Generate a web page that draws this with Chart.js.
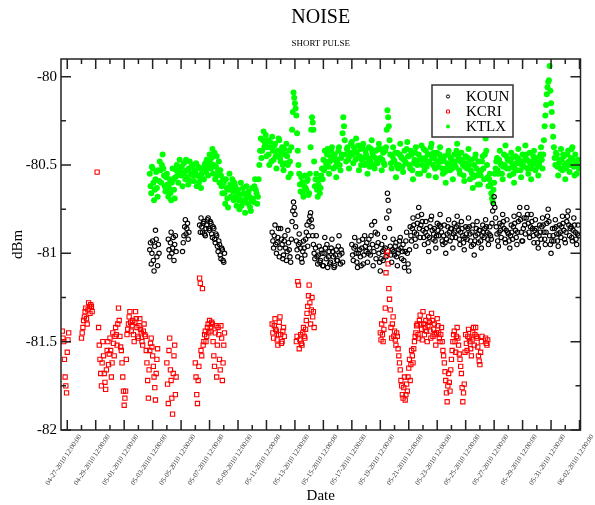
<!DOCTYPE html>
<html>
<head>
<meta charset="utf-8">
<title>NOISE</title>
<script src="https://cdn.jsdelivr.net/npm/chart.js@4.4.1/dist/chart.umd.min.js"></script>
<style>
  html, body { margin: 0; padding: 0; background: #fff; }
  #wrap { width: 595px; height: 505px; }
</style>
</head>
<body>
<div id="wrap"><canvas id="noiseChart"></canvas></div>
<script>
// day 0 = 04-27-2010 12:00:00, samples every STEP days
const STEP = 0.05;

const dateLabels = [
  '04-27-2010 12:00:00', '04-29-2010 12:00:00', '05-01-2010 12:00:00', '05-03-2010 12:00:00',
  '05-05-2010 12:00:00', '05-07-2010 12:00:00', '05-09-2010 12:00:00', '05-11-2010 12:00:00',
  '05-13-2010 12:00:00', '05-15-2010 12:00:00', '05-17-2010 12:00:00', '05-19-2010 12:00:00',
  '05-21-2010 12:00:00', '05-23-2010 12:00:00', '05-25-2010 12:00:00', '05-27-2010 12:00:00',
  '05-29-2010 12:00:00', '05-31-2010 12:00:00', '06-02-2010 12:00:00'
];

const seriesNames = ['KOUN', 'KCRI', 'KTLX'];

// each run: [first day, values in dBm]
const kounRuns = [
  [5.8, [-80.98, -80.94, -81.06, -81.00, -80.93, -81.04, -81.10, -80.96, -80.87, -80.92, -81.02, -81.07, -80.95, -81.00]],
  [7.1, [-80.92, -80.98, -81.02, -80.94, -80.88, -81.00, -80.97, -80.91, -81.04, -80.95, -80.90, -80.99]],
  [8.1, [-80.99, -80.94, -80.90, -80.85, -80.81, -80.89, -80.86, -80.83, -80.92, -80.88]],
  [9.3, [-80.84, -80.88, -80.80, -80.85, -80.88, -80.83, -80.82, -80.89, -80.90, -80.86, -80.84, -80.81, -80.80, -80.86,
         -80.87, -80.82, -80.83, -80.89, -80.91, -80.85, -80.86, -80.92, -80.94, -80.89, -80.90, -80.96, -80.99, -80.93, -80.95, -81.01, -81.03, -80.97, -80.98, -81.04,
         -81.05, -81.00]],
  [14.4, [-80.88, -80.93, -80.97, -80.90, -80.84, -80.95, -81.00, -80.94, -80.91, -80.86, -81.02, -80.97,
          -80.86, -80.92, -80.95, -81.03, -81.01, -80.93, -80.90, -80.97, -81.04, -80.99, -80.87, -80.94, -80.98, -81.02, -81.05, -80.92, -80.82, -80.76, -80.71, -80.74,
          -80.78, -80.85, -80.93, -80.98, -81.02, -80.95, -80.89, -80.94, -80.97, -81.03, -81.05, -80.99, -80.93, -80.97, -81.01, -80.92, -80.88, -80.84, -80.96, -80.90,
          -80.82, -80.79, -80.77, -80.81, -80.85, -80.90, -80.95, -81.00, -81.03, -80.97, -80.90, -81.02, -81.06, -81.01, -80.96, -81.05, -81.04, -80.98, -81.00, -81.07,
          -81.07, -81.00, -80.91, -80.97, -81.03, -80.95, -81.08, -81.02, -80.99, -81.06, -81.05, -80.97, -80.92, -80.99, -81.02, -81.08, -81.07, -81.01, -80.98, -81.04,
          -81.04, -80.96, -80.90, -81.01, -81.06, -80.98, -81.00, -81.05]],
  [20.0, [-80.95, -81.01, -81.04, -80.97, -80.91, -80.96, -81.00, -81.05, -81.08, -81.00, -80.93, -80.98, -81.02, -81.07, -80.97, -80.92, -81.06, -81.01, -80.90, -80.96,
          -80.99, -80.94, -81.05, -81.00, -80.92, -80.97, -81.01, -80.90, -80.84, -80.95, -81.07, -80.99, -80.82, -80.88, -81.03, -80.96, -80.89, -80.94, -81.00, -81.05,
          -81.10, -81.03, -80.95, -80.99, -81.04, -80.98, -80.91, -80.97, -81.02, -80.80, -80.66, -80.70, -80.76, -80.86, -80.96, -81.01, -81.05, -80.98, -80.92, -80.99,
          -81.01, -80.96, -80.94, -81.02, -81.07, -81.00, -80.98, -80.93, -80.91, -80.97, -81.03, -80.99, -80.95, -81.04, -81.08, -80.99, -80.93, -80.88, -81.00, -81.06,
          -81.10, -80.98, -80.85, -80.90, -80.93, -80.86, -80.80, -80.84, -80.88, -80.92, -80.96, -80.89, -80.83, -80.79, -80.74, -80.86, -80.91, -80.84, -80.78, -80.82,
          -80.87, -80.91, -80.95, -80.88, -80.82, -80.86, -80.90, -80.94, -80.99, -80.91, -80.85, -80.81, -80.79, -80.87, -80.92, -80.89, -80.86, -80.93, -80.97, -80.90,
          -80.83, -80.87, -80.90, -80.84, -80.78, -80.85, -80.88, -80.93, -80.95, -80.90, -80.84, -80.94, -81.00, -80.92, -80.89, -80.85, -80.81, -80.88, -80.93, -80.86,
          -80.86, -80.91, -80.97, -80.89, -80.83, -80.88, -80.91, -80.85, -80.79, -80.84, -80.87, -80.92, -80.95, -80.88, -80.82, -80.86, -80.90, -80.94, -80.98, -80.91,
          -80.85, -80.89, -80.92, -80.86, -80.80, -80.85, -80.89, -80.93, -80.96, -80.88, -80.84, -80.95, -81.01, -80.93, -80.90, -80.86, -80.82, -80.89, -80.94, -80.87,
          -80.87, -80.93, -80.97, -80.90, -80.84, -80.88, -80.91, -80.86, -80.81, -80.85, -80.88, -80.92, -80.95, -80.89, -80.85, -80.90, -80.92, -80.83, -80.76, -80.72,
          -80.68, -80.74, -80.80, -80.85, -80.89, -80.93, -80.96, -80.88, -80.83, -80.87, -80.91, -80.84, -80.78, -80.82, -80.86, -80.92, -80.94, -80.87, -80.81, -80.88,
          -80.89, -80.93, -80.97, -80.90, -80.84, -80.88, -80.92, -80.85, -80.79, -80.83, -80.87, -80.91, -80.95, -80.88, -80.82, -80.78, -80.74, -80.81, -80.88, -80.93,
          -80.93, -80.86, -80.80, -80.84, -80.89, -80.80, -80.74, -80.78, -80.83, -80.88, -80.91, -80.85, -80.78, -80.82, -80.86, -80.90, -80.94, -80.87, -80.81, -80.86,
          -80.89, -80.94, -80.97, -80.90, -80.84, -80.88, -80.92, -80.85, -80.80, -80.84, -80.88, -80.92, -80.95, -80.88, -80.83, -80.79, -80.75, -80.82, -80.90, -80.95,
          -81.00, -80.93, -80.86, -80.90, -80.93, -80.86, -80.81, -80.85, -80.89, -80.93, -80.96, -80.89, -80.84, -80.88, -80.91, -80.85, -80.79, -80.83, -80.87, -80.92,
          -80.94, -80.88, -80.82, -80.79, -80.76, -80.84, -80.90, -80.86, -80.85, -80.91, -80.93, -80.87, -80.80, -80.84, -80.88, -80.92, -80.95, -80.89, -80.84, -80.90]]
];

const kcriRuns = [
  [-0.35, [-81.44, -81.48, -81.50, -81.60, -81.70, -81.75, -81.79, -81.56, -81.49, -81.45]],
  [1.0, [-81.48, -81.45, -81.42, -81.38, -81.36, -81.33, -81.31, -81.37, -81.40, -81.32, -81.28, -81.30, -81.34, -81.29, -81.30, -81.33]],
  [2.1, [-80.54]],
  [2.2, [-81.42, -81.52, -81.60, -81.68, -81.75, -81.62, -81.50, -81.58, -81.68, -81.73, -81.77, -81.66, -81.55, -81.50, -81.63, -81.57,
         -81.48, -81.55, -81.70, -81.62, -81.45, -81.51, -81.58, -81.47, -81.42, -81.46, -81.52, -81.40, -81.31, -81.38, -81.47, -81.53, -81.55, -81.62, -81.70, -81.78,
         -81.86, -81.82, -81.78, -81.60, -81.46, -81.43, -81.40, -81.36, -81.33, -81.39, -81.44, -81.41, -81.38, -81.46, -81.50, -81.39, -81.33, -81.37, -81.42, -81.47,
         -81.48, -81.41, -81.37, -81.43, -81.45, -81.50, -81.52, -81.44, -81.40, -81.46, -81.47, -81.55, -81.62, -81.72, -81.82, -81.66, -81.55, -81.51, -81.48, -81.53,
         -81.58, -81.64, -81.70, -81.76, -81.83, -81.68, -81.60, -81.54]],
  [7.0, [-81.62, -81.74, -81.85, -81.55, -81.48, -81.66, -81.72, -81.82, -81.91, -81.68, -81.58, -81.52, -81.80, -81.70]],
  [9.0, [-81.62, -81.70, -81.80, -81.85, -81.72, -81.64, -81.14, -81.17, -81.55, -81.58, -81.20, -81.52, -81.50, -81.46, -81.44, -81.50, -81.47, -81.42, -81.40, -81.45,
         -81.38, -81.42, -81.44, -81.39, -81.40, -81.50, -81.58, -81.64, -81.45, -81.41, -81.70, -81.52, -81.42, -81.46, -81.60, -81.66, -81.41, -81.48, -81.72, -81.62,
         -81.52, -81.45]],
  [14.4, [-81.40, -81.45, -81.48, -81.41, -81.37, -81.43, -81.44, -81.49, -81.52, -81.46, -81.39, -81.36, -81.46, -81.51, -81.50, -81.44, -81.42, -81.47]],
  [16.1, [-81.50, -81.47, -81.16, -81.18, -81.54, -81.49, -81.46, -81.51, -81.52, -81.45, -81.42, -81.47, -81.48, -81.43, -81.38, -81.34,
          -81.30, -81.24, -81.18, -81.28, -81.40, -81.32, -81.25, -81.36, -81.33, -81.42]],
  [22.0, [-81.45, -81.49, -81.40, -81.46, -81.50, -81.43, -81.38, -81.31, -81.11, -81.01, -80.99, -81.06, -81.20, -81.26, -81.32, -81.42, -81.48, -81.40, -81.36, -81.47,
          -81.44, -81.49, -81.52, -81.45, -81.47, -81.54, -81.58, -81.62, -81.66, -81.72, -81.75, -81.80, -81.82, -81.76, -81.70, -81.83, -81.80, -81.74, -81.78, -81.70,
          -81.65, -81.60, -81.72, -81.63, -81.55, -81.58, -81.62, -81.54, -81.50, -81.47, -81.45, -81.41, -81.40, -81.46, -81.48, -81.38, -81.35, -81.40, -81.43, -81.49,
          -81.33, -81.40, -81.46, -81.42, -81.38, -81.44, -81.50, -81.41, -81.36, -81.39, -81.44, -81.48, -81.34, -81.38, -81.47, -81.43, -81.40, -81.46, -81.52, -81.45,
          -81.37, -81.41, -81.45, -81.48, -81.50, -81.46, -81.42, -81.50, -81.55, -81.58, -81.62, -81.67, -81.72, -81.79, -81.84, -81.75, -81.68, -81.73, -81.78, -81.66,
          -81.60, -81.55, -81.50, -81.46, -81.44, -81.50, -81.56, -81.47, -81.42, -81.48, -81.52, -81.57, -81.60, -81.64, -81.68, -81.76, -81.84, -81.79, -81.74, -81.56,
          -81.46, -81.51, -81.55, -81.47, -81.43, -81.48, -81.50, -81.54, -81.58, -81.49, -81.45, -81.42, -81.52, -81.46, -81.42, -81.47, -81.48, -81.53, -81.58, -81.61,
          -81.63, -81.56, -81.50, -81.47]],
  [29.4, [-81.48, -81.51, -81.52, -81.49]]
];

const ktlxRuns = [
  [5.8, [-80.55, -80.62, -80.66, -80.51,
         -80.52, -80.60, -80.70, -80.64, -80.58, -80.54, -80.63, -80.68, -80.53, -80.59, -80.48, -80.53, -80.60, -80.50, -80.44, -80.52, -80.56, -80.62, -80.65, -80.57,
         -80.55, -80.61, -80.68, -80.63, -80.58, -80.66, -80.70, -80.60, -80.52, -80.58, -80.64, -80.69, -80.57, -80.53, -80.50, -80.56, -80.60, -80.53, -80.47, -80.54,
         -80.56, -80.51, -80.62, -80.55, -80.49, -80.54, -80.58, -80.47, -80.53, -80.57, -80.61, -80.52, -80.48, -80.59, -80.55, -80.51, -80.50, -80.56, -80.59, -80.53,
         -80.54, -80.49, -80.62, -80.56, -80.51, -80.60, -80.57, -80.52, -80.63, -80.55, -80.52, -80.58, -80.58, -80.50, -80.49, -80.54, -80.47, -80.52, -80.56, -80.49,
         -80.44, -80.49, -80.52, -80.46, -80.41, -80.55, -80.50, -80.43, -80.58, -80.51, -80.45, -80.56, -80.53, -80.48, -80.60, -80.53, -80.56, -80.62, -80.66, -80.58,
         -80.60, -80.66, -80.72, -80.58, -80.63, -80.69, -80.74, -80.64, -80.55, -80.61, -80.68, -80.62, -80.58, -80.65, -80.70, -80.60, -80.62, -80.68, -80.73, -80.65,
         -80.64, -80.70, -80.75, -80.67, -80.60, -80.73, -80.70, -80.63, -80.66, -80.71, -80.77, -80.69, -80.62, -80.67, -80.72, -80.65, -80.68, -80.74, -80.76, -80.70,
         -80.63, -80.69, -80.71, -80.62, -80.58, -80.64, -80.66, -80.72, -80.68, -80.58, -80.50, -80.42, -80.35, -80.46, -80.42, -80.36, -80.31, -80.40, -80.38, -80.33,
         -80.45, -80.40, -80.36, -80.44, -80.50, -80.37, -80.40, -80.48, -80.34, -80.42, -80.47, -80.39, -80.38, -80.45, -80.52, -80.44, -80.42, -80.35, -80.36, -80.46,
         -80.48, -80.43, -80.40, -80.50, -80.53, -80.41, -80.44, -80.49, -80.38, -80.45, -80.50, -80.57, -80.42, -80.48, -80.55, -80.40, -80.30, -80.20, -80.09, -80.12,
         -80.15, -80.18, -80.22, -80.32, -80.42, -80.50, -80.55, -80.61, -80.65, -80.57, -80.60, -80.66, -80.68, -80.62, -80.56, -80.63, -80.64, -80.59, -80.58, -80.67,
         -80.66, -80.55, -80.40, -80.30, -80.23, -80.26, -80.30, -80.48, -80.62, -80.58, -80.55, -80.64, -80.68, -80.61, -80.58, -80.66, -80.63, -80.56, -80.52, -80.58,
         -80.47, -80.53, -80.42, -80.48, -80.50, -80.44, -80.41, -80.51, -80.55, -80.48, -80.45, -80.42, -80.40, -80.47, -80.52, -80.46, -80.44, -80.51, -80.57, -80.49,
         -80.47, -80.42, -80.40, -80.50, -80.53, -80.46, -80.44, -80.32, -80.23, -80.28, -80.36, -80.44, -80.48, -80.41, -80.40, -80.47, -80.52, -80.45, -80.43, -80.38,
         -80.37, -80.44, -80.49, -80.40, -80.42, -80.47, -80.35, -80.43, -80.46, -80.39, -80.53, -80.45, -80.41, -80.50, -80.47, -80.40, -80.38, -80.46, -80.50, -80.42,
         -80.44, -80.49, -80.55, -80.46, -80.40, -80.51, -80.48, -80.41, -80.36, -80.43, -80.45, -80.50, -80.52, -80.46, -80.42, -80.48, -80.49, -80.41, -80.38, -80.47,
         -80.46, -80.41, -80.53, -80.47, -80.43, -80.49, -80.50, -80.42, -80.40, -80.30, -80.19, -80.23, -80.28, -80.36, -80.44, -80.49, -80.52, -80.45, -80.40, -80.47,
         -80.48, -80.43, -80.57, -80.50, -80.43, -80.52, -80.50, -80.44, -80.38, -80.45, -80.46, -80.51, -80.54, -80.47, -80.42, -80.48, -80.49, -80.41, -80.37, -80.45,
         -80.45, -80.50, -80.52, -80.42, -80.44, -80.53, -80.58, -80.49, -80.47, -80.43, -80.40, -80.48, -80.50, -80.55, -80.44, -80.47, -80.55, -80.46, -80.39, -80.50,
         -80.47, -80.41, -80.53, -80.46, -80.42, -80.51, -80.49, -80.44, -80.56, -80.48, -80.44, -80.40, -80.38, -80.46, -80.50, -80.43, -80.46, -80.52, -80.57, -80.48,
         -80.43, -80.48, -80.51, -80.44, -80.40, -80.46, -80.48, -80.52, -80.55, -80.47, -80.45, -80.54, -80.60, -80.52, -80.49, -80.44, -80.42, -80.50, -80.53, -80.46,
         -80.47, -80.52, -80.58, -80.49, -80.44, -80.48, -80.51, -80.42, -80.38, -80.44, -80.46, -80.53, -80.55, -80.48, -80.43, -80.47, -80.50, -80.56, -80.59, -80.51,
         -80.45, -80.49, -80.52, -80.46, -80.41, -80.50, -80.58, -80.53, -80.47, -80.55, -80.63, -80.57, -80.50, -80.46, -80.44, -80.52, -80.56, -80.61, -80.48, -80.54,
         -80.61, -80.56, -80.53, -80.48, -80.45, -80.52, -80.58, -80.44, -80.35, -80.42, -80.50, -80.57, -80.62, -80.58, -80.55, -80.61, -80.66, -80.69, -80.71, -80.64,
         -80.60, -80.55, -80.52, -80.48, -80.46, -80.53, -80.55, -80.47, -80.42, -80.49, -80.50, -80.55, -80.58, -80.51, -80.44, -80.50, -80.39, -80.45, -80.52, -80.47,
         -80.47, -80.52, -80.56, -80.48, -80.43, -80.46, -80.50, -80.55, -80.60, -80.52, -80.45, -80.49, -80.53, -80.46, -80.41, -80.47, -80.49, -80.53, -80.57, -80.50,
         -80.44, -80.48, -80.51, -80.45, -80.39, -80.44, -80.47, -80.52, -80.55, -80.48, -80.43, -80.50, -80.58, -80.52, -80.48, -80.45, -80.42, -80.49, -80.53, -80.47,
         -80.46, -80.51, -80.56, -80.50, -80.48, -80.44, -80.40, -80.47, -80.52, -80.44, -80.36, -80.28, -80.22, -80.16, -80.10, -80.06, -80.03, -80.02, -79.94, -80.08,
         -80.15, -80.20, -80.28, -80.34, -80.40, -80.46, -80.50, -80.43, -80.44, -80.51, -80.56, -80.49, -80.47, -80.52, -80.41, -80.47, -80.53, -80.44, -80.45, -80.50,
         -80.58, -80.52, -80.49, -80.44, -80.42, -80.48, -80.54, -80.50, -80.46, -80.41, -80.40, -80.47, -80.51, -80.56, -80.44, -80.49, -80.55, -80.50, -80.47, -80.52]]
];

function toPoints(runs) {
  const pts = [];
  runs.forEach(([start, values]) => {
    values.forEach((v, i) => pts.push({ x: +(start + i * STEP).toFixed(3), y: v }));
  });
  return pts;
}

const serif = 'Liberation Serif';

// titles, frame with inward ticks, legend box
const framePlugin = {
  id: 'frame',
  afterDatasetsDraw(chart) {
    const { ctx, chartArea: a, scales: { x, y } } = chart;
    ctx.save();

    // titles centred over plot
    const cx = (a.left + a.right) / 2;
    ctx.fillStyle = '#000';
    ctx.textAlign = 'center';
    ctx.textBaseline = 'middle';
    ctx.font = '20px "' + serif + '"';
    ctx.fillText('NOISE', cx, 18);
    ctx.font = '9px "' + serif + '"';
    ctx.fillText('SHORT PULSE', cx, 44);

    // frame
    ctx.strokeStyle = '#222';
    ctx.lineWidth = 1.5;
    ctx.strokeRect(a.left, a.top, a.right - a.left, a.bottom - a.top);

    // ticks pointing in, long ones where there is a label
    ctx.beginPath();
    x.ticks.forEach(t => {
      const px = x.getPixelForValue(t.value);
      const len = t.label ? 10 : 5;
      ctx.moveTo(px, a.bottom); ctx.lineTo(px, a.bottom - len);
      ctx.moveTo(px, a.top); ctx.lineTo(px, a.top + len);
    });
    y.ticks.forEach(t => {
      const py = y.getPixelForValue(t.value);
      const len = t.label ? 10 : 5;
      ctx.moveTo(a.left, py); ctx.lineTo(a.left + len, py);
      ctx.moveTo(a.right, py); ctx.lineTo(a.right - len, py);
    });
    ctx.stroke();

    // legend
    const lx = 432, ly = 85, lw = 81, lh = 52;
    ctx.fillStyle = '#fff';
    ctx.fillRect(lx, ly, lw, lh);
    ctx.strokeStyle = '#333';
    ctx.lineWidth = 1.5;
    ctx.strokeRect(lx, ly, lw, lh);
    ctx.textAlign = 'left';
    ctx.font = '15px "' + serif + '"';
    chart.data.datasets.forEach((ds, i) => {
      const my = ly + 11.5 + i * 15;
      const mx = lx + 16;
      ctx.lineWidth = 1;
      ctx.strokeStyle = ds.borderColor;
      ctx.fillStyle = ds.backgroundColor;
      ctx.beginPath();
      if (ds.pointStyle === 'rect') {
        ctx.rect(mx - 1.5, my - 1.5, 3, 3);
      } else {
        ctx.arc(mx, my, ds.borderWidth ? 1.6 : 2, 0, Math.PI * 2);
      }
      ctx.fill();
      if (ds.borderWidth) ctx.stroke();
      ctx.fillStyle = '#000';
      ctx.fillText(ds.label, lx + 34, my + 1);
    });

    ctx.restore();
  }
};

const ctx = document.getElementById('noiseChart').getContext('2d');
const noiseChart = new Chart(ctx, {
  type: 'scatter',
  data: {
    datasets: [
      {
        label: seriesNames[0],
        data: toPoints(kounRuns),
        pointStyle: 'circle',
        pointRadius: 2.2,
        borderWidth: 1.1,
        borderColor: '#000',
        backgroundColor: 'rgba(0,0,0,0)',
        order: 2
      },
      {
        label: seriesNames[1],
        data: toPoints(kcriRuns),
        pointStyle: 'rect',
        pointRadius: 3,
        borderWidth: 1.1,
        borderColor: '#ff0000',
        backgroundColor: 'rgba(0,0,0,0)',
        order: 1
      },
      {
        label: seriesNames[2],
        data: toPoints(ktlxRuns),
        pointStyle: 'circle',
        pointRadius: 3,
        borderWidth: 0,
        borderColor: '#00ff00',
        backgroundColor: '#00ff00',
        order: 3
      }
    ]
  },
  options: {
    responsive: true,
    maintainAspectRatio: false,
    animation: false,
    devicePixelRatio: 1,
    layout: { padding: { top: 59, right: 14.5, bottom: 0, left: 0 } },
    plugins: {
      legend: { display: false },
      tooltip: { enabled: false }
    },
    scales: {
      x: {
        type: 'linear',
        min: -0.44,
        max: 36.07,
        afterFit: s => { s.height = 75; },
        grid: { display: false, drawTicks: false },
        border: { display: false },
        ticks: {
          stepSize: 1,
          autoSkip: false,
          includeBounds: false,
          minRotation: 56,
          maxRotation: 56,
          labelOffset: 13,
          padding: 3,
          color: '#333',
          font: { family: serif, size: 7 },
          callback: v => (v % 2 === 0 ? dateLabels[v / 2] : '')
        },
        title: {
          display: true,
          text: 'Date',
          color: '#000',
          font: { family: serif, size: 15 },
          padding: 0
        }
      },
      y: {
        min: -82,
        max: -79.9,
        afterFit: s => { s.width = 61; },
        grid: { display: false, drawTicks: false },
        border: { display: false },
        ticks: {
          stepSize: 0.25,
          autoSkip: false,
          includeBounds: false,
          padding: 4,
          color: '#000',
          font: { family: serif, size: 15 },
          callback: v => (Math.abs(v * 2 - Math.round(v * 2)) < 1e-6 ? String(v) : '')
        },
        title: {
          display: true,
          text: 'dBm',
          color: '#000',
          font: { family: serif, size: 15 },
          padding: { top: 9, bottom: 0 }
        }
      }
    }
  },
  plugins: [framePlugin]
});
</script>
</body>
</html>
